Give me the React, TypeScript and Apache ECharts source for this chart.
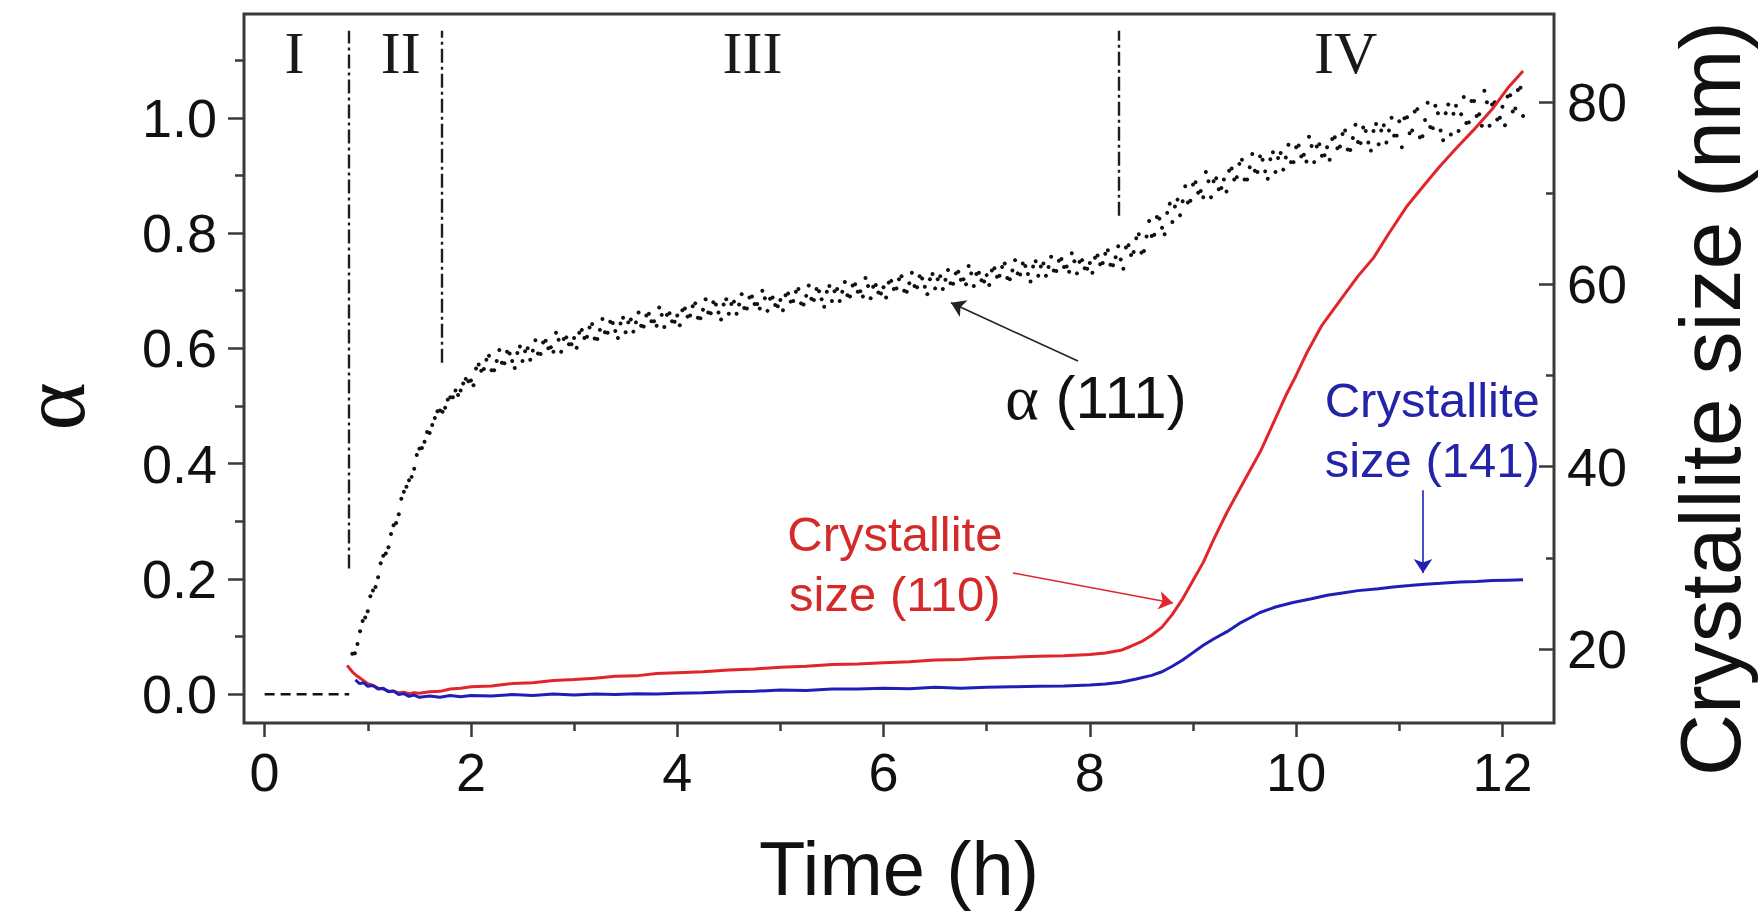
import React, { useEffect, useRef } from "react";
import * as echarts from "echarts";

// Axis ticks
const timeTicks = [0, 2, 4, 6, 8, 10, 12];
const timeMinorTicks = [1, 3, 5, 7, 9, 11];
const alphaTicks = [0, 0.2, 0.4, 0.6, 0.8, 1.0];
const alphaMinorTicks = [0.1, 0.3, 0.5, 0.7, 0.9, 1.1];
const sizeTicks = [20, 40, 60, 80];
const sizeMinorTicks = [30, 50, 70];

// Transformed fraction α from the (111) reflection, [time h, α] — scan A
const alphaPoints: [number, number][] = [
  [0.85, 0.070], [0.90, 0.087], [0.95, 0.127], [1.00, 0.144], [1.05, 0.180], [1.10, 0.203], [1.15, 0.240], [1.20, 0.255],
  [1.25, 0.293], [1.30, 0.312], [1.35, 0.351], [1.40, 0.371], [1.45, 0.391], [1.50, 0.426], [1.55, 0.438], [1.60, 0.453],
  [1.65, 0.479], [1.70, 0.492], [1.75, 0.497], [1.80, 0.515], [1.85, 0.527], [1.90, 0.527], [1.95, 0.547], [2.00, 0.544],
  [2.05, 0.565], [2.10, 0.561], [2.15, 0.580], [2.20, 0.562], [2.25, 0.578], [2.30, 0.575], [2.35, 0.594], [2.40, 0.578],
  [2.45, 0.592], [2.50, 0.578], [2.55, 0.600], [2.60, 0.596], [2.65, 0.591], [2.70, 0.610], [2.75, 0.600], [2.80, 0.594],
  [2.85, 0.615], [2.90, 0.616], [2.95, 0.607], [3.00, 0.618], [3.05, 0.627], [3.10, 0.618], [3.15, 0.636], [3.20, 0.617],
  [3.25, 0.632], [3.30, 0.628], [3.35, 0.646], [3.40, 0.630], [3.45, 0.643], [3.50, 0.628], [3.55, 0.650], [3.60, 0.645],
  [3.65, 0.639], [3.70, 0.657], [3.75, 0.647], [3.80, 0.639], [3.85, 0.658], [3.90, 0.658], [3.95, 0.647], [4.00, 0.657],
  [4.05, 0.666], [4.10, 0.655], [4.15, 0.673], [4.20, 0.653], [4.25, 0.667], [4.30, 0.662], [4.35, 0.680], [4.40, 0.662],
  [4.45, 0.676], [4.50, 0.660], [4.55, 0.681], [4.60, 0.676], [4.65, 0.670], [4.70, 0.688], [4.75, 0.677], [4.80, 0.669],
  [4.85, 0.687], [4.90, 0.686], [4.95, 0.675], [5.00, 0.684], [5.05, 0.692], [5.10, 0.681], [5.15, 0.698], [5.20, 0.678],
  [5.25, 0.691], [5.30, 0.686], [5.35, 0.703], [5.40, 0.685], [5.45, 0.698], [5.50, 0.682], [5.55, 0.703], [5.60, 0.698],
  [5.65, 0.692], [5.70, 0.709], [5.75, 0.698], [5.80, 0.690], [5.85, 0.708], [5.90, 0.707], [5.95, 0.697], [6.00, 0.706],
  [6.05, 0.714], [6.10, 0.703], [6.15, 0.720], [6.20, 0.700], [6.25, 0.713], [6.30, 0.708], [6.35, 0.725], [6.40, 0.707],
  [6.45, 0.720], [6.50, 0.704], [6.55, 0.725], [6.60, 0.719], [6.65, 0.713], [6.70, 0.730], [6.75, 0.719], [6.80, 0.711],
  [6.85, 0.730], [6.90, 0.729], [6.95, 0.718], [7.00, 0.727], [7.05, 0.735], [7.10, 0.724], [7.15, 0.741], [7.20, 0.722],
  [7.25, 0.735], [7.30, 0.730], [7.35, 0.747], [7.40, 0.729], [7.45, 0.742], [7.50, 0.726], [7.55, 0.747], [7.60, 0.741],
  [7.65, 0.735], [7.70, 0.752], [7.75, 0.741], [7.80, 0.733], [7.85, 0.751], [7.90, 0.750], [7.95, 0.739], [8.00, 0.748],
  [8.05, 0.757], [8.10, 0.746], [8.15, 0.764], [8.20, 0.745], [8.25, 0.758], [8.30, 0.754], [8.35, 0.775], [8.40, 0.762],
  [8.45, 0.791], [8.50, 0.766], [8.55, 0.794], [8.60, 0.795], [8.65, 0.828], [8.70, 0.809], [8.75, 0.835], [8.80, 0.819],
  [8.85, 0.858], [8.90, 0.855], [8.95, 0.853], [9.00, 0.884], [9.05, 0.870], [9.10, 0.862], [9.15, 0.890], [9.20, 0.890],
  [9.25, 0.876], [9.30, 0.893], [9.35, 0.908], [9.40, 0.893], [9.45, 0.920], [9.50, 0.893], [9.55, 0.914], [9.60, 0.908],
  [9.65, 0.933], [9.70, 0.907], [9.75, 0.928], [9.80, 0.906], [9.85, 0.939], [9.90, 0.931], [9.95, 0.923], [10.00, 0.949],
  [10.05, 0.933], [10.10, 0.924], [10.15, 0.951], [10.20, 0.950], [10.25, 0.934], [10.30, 0.949], [10.35, 0.963], [10.40, 0.947],
  [10.45, 0.972], [10.50, 0.945], [10.55, 0.965], [10.60, 0.958], [10.65, 0.983], [10.70, 0.957], [10.75, 0.977], [10.80, 0.954],
  [10.85, 0.987], [10.90, 0.978], [10.95, 0.969], [11.00, 0.994], [11.05, 0.999], [11.10, 0.973], [11.15, 1.011], [11.20, 0.966],
  [11.25, 0.996], [11.30, 0.984], [11.35, 1.021], [11.40, 0.978], [11.45, 1.008], [11.50, 0.971], [11.55, 1.021], [11.60, 1.006],
  [11.65, 0.991], [11.70, 1.029], [11.75, 1.003], [11.80, 0.986], [11.85, 1.027], [11.90, 1.023], [11.95, 0.997], [12.00, 1.019],
  [12.05, 1.037], [12.10, 1.011], [12.15, 1.048], [12.20, 1.003],
];

// Same reflection, interleaved scan B
const alphaPointsB: [number, number][] = [
  [0.875, 0.071], [0.925, 0.109], [0.975, 0.133], [1.025, 0.170], [1.075, 0.186], [1.125, 0.227], [1.175, 0.244], [1.225, 0.278],
  [1.275, 0.297], [1.325, 0.339], [1.375, 0.360], [1.425, 0.377], [1.475, 0.415], [1.525, 0.427], [1.575, 0.455], [1.625, 0.467],
  [1.675, 0.491], [1.725, 0.490], [1.775, 0.511], [1.825, 0.515], [1.875, 0.519], [1.925, 0.539], [1.975, 0.543],
  [2.025, 0.536], [2.075, 0.572], [2.125, 0.564], [2.175, 0.587], [2.225, 0.562], [2.275, 0.597], [2.325, 0.574], [2.375, 0.591],
  [2.425, 0.566], [2.475, 0.603], [2.525, 0.595], [2.575, 0.580], [2.625, 0.614], [2.675, 0.590], [2.725, 0.613], [2.775, 0.602],
  [2.825, 0.627], [2.875, 0.594], [2.925, 0.619], [2.975, 0.607], [3.025, 0.601], [3.075, 0.632], [3.125, 0.620], [3.175, 0.642],
  [3.225, 0.616], [3.275, 0.651], [3.325, 0.627], [3.375, 0.644], [3.425, 0.618], [3.475, 0.653], [3.525, 0.645], [3.575, 0.629],
  [3.625, 0.662], [3.675, 0.638], [3.725, 0.660], [3.775, 0.647], [3.825, 0.671], [3.875, 0.637], [3.925, 0.661], [3.975, 0.646],
  [4.025, 0.640], [4.075, 0.669], [4.125, 0.657], [4.175, 0.678], [4.225, 0.652], [4.275, 0.685], [4.325, 0.661], [4.375, 0.676],
  [4.425, 0.650], [4.475, 0.685], [4.525, 0.677], [4.575, 0.660], [4.625, 0.694], [4.675, 0.669], [4.725, 0.690], [4.775, 0.677],
  [4.825, 0.700], [4.875, 0.665], [4.925, 0.688], [4.975, 0.673], [5.025, 0.666], [5.075, 0.695], [5.125, 0.682], [5.175, 0.703],
  [5.225, 0.676], [5.275, 0.709], [5.325, 0.684], [5.375, 0.699], [5.425, 0.672], [5.475, 0.708], [5.525, 0.699], [5.575, 0.682],
  [5.625, 0.715], [5.675, 0.690], [5.725, 0.711], [5.775, 0.699], [5.825, 0.722], [5.875, 0.687], [5.925, 0.710], [5.975, 0.695],
  [6.025, 0.688], [6.075, 0.717], [6.125, 0.704], [6.175, 0.725], [6.225, 0.698], [6.275, 0.731], [6.325, 0.706], [6.375, 0.721],
  [6.425, 0.694], [6.475, 0.729], [6.525, 0.720], [6.575, 0.703], [6.625, 0.736], [6.675, 0.712], [6.725, 0.733], [6.775, 0.720],
  [6.825, 0.743], [6.875, 0.708], [6.925, 0.731], [6.975, 0.716], [7.025, 0.710], [7.075, 0.739], [7.125, 0.726], [7.175, 0.747],
  [7.225, 0.720], [7.275, 0.753], [7.325, 0.728], [7.375, 0.743], [7.425, 0.716], [7.475, 0.751], [7.525, 0.742], [7.575, 0.726],
  [7.625, 0.759], [7.675, 0.734], [7.725, 0.755], [7.775, 0.742], [7.825, 0.765], [7.875, 0.730], [7.925, 0.753], [7.975, 0.738],
  [8.025, 0.731], [8.075, 0.761], [8.125, 0.748], [8.175, 0.770], [8.225, 0.744], [8.275, 0.777], [8.325, 0.738], [8.375, 0.779],
  [8.425, 0.767], [8.475, 0.798], [8.525, 0.769], [8.575, 0.821], [8.625, 0.797], [8.675, 0.825], [8.725, 0.798], [8.775, 0.851],
  [8.825, 0.846], [8.875, 0.831], [8.925, 0.881], [8.975, 0.856], [9.025, 0.888], [9.075, 0.873], [9.125, 0.906], [9.175, 0.862],
  [9.225, 0.895], [9.275, 0.878], [9.325, 0.872], [9.375, 0.912], [9.425, 0.897], [9.475, 0.927], [9.525, 0.893], [9.575, 0.937],
  [9.625, 0.906], [9.675, 0.927], [9.725, 0.894], [9.775, 0.940], [9.825, 0.930], [9.875, 0.910], [9.925, 0.953], [9.975, 0.923],
  [10.025, 0.952], [10.075, 0.936], [10.125, 0.967], [10.175, 0.923], [10.225, 0.954], [10.275, 0.935], [10.325, 0.927], [10.375, 0.966],
  [10.425, 0.950], [10.475, 0.978], [10.525, 0.944], [10.575, 0.988], [10.625, 0.956], [10.675, 0.977], [10.725, 0.943], [10.775, 0.989],
  [10.825, 0.978], [10.875, 0.957], [10.925, 1.000], [10.975, 0.969], [11.025, 0.949], [11.075, 1.001], [11.125, 0.978], [11.175, 1.015],
  [11.225, 0.968], [11.275, 1.026], [11.325, 0.982], [11.375, 1.008], [11.425, 0.961], [11.475, 1.023], [11.525, 1.007], [11.575, 0.977],
  [11.625, 1.036], [11.675, 0.992], [11.725, 1.029], [11.775, 1.006], [11.825, 1.047], [11.875, 0.986], [11.925, 1.027], [11.975, 1.000],
  [12.025, 0.987], [12.075, 1.039], [12.125, 1.016], [12.175, 1.052],
];

// Induction period (stage I): α stays at zero
const inductionPoints: [number, number][] = [[0, 0], [0.82, 0]];

// Crystallite size from the (110) reflection, [time h, nm]
const size110: [number, number][] = [
  [0.80, 18.2], [0.85, 17.5], [0.90, 17.0], [0.95, 16.6], [1.00, 16.2], [1.05, 16.0], [1.10, 15.7], [1.15, 15.6],
  [1.20, 15.4], [1.25, 15.35], [1.30, 15.2], [1.35, 15.25], [1.40, 15.1], [1.45, 15.2], [1.50, 15.15], [1.60, 15.3],
  [1.70, 15.35], [1.80, 15.6], [1.90, 15.7], [2.00, 15.85], [2.20, 15.95], [2.40, 16.2], [2.60, 16.3], [2.80, 16.55],
  [3.00, 16.65], [3.20, 16.8], [3.40, 17.0], [3.60, 17.05], [3.80, 17.3], [4.00, 17.4], [4.25, 17.5], [4.50, 17.7],
  [4.75, 17.8], [5.00, 18.0], [5.25, 18.1], [5.50, 18.3], [5.75, 18.35], [6.00, 18.5], [6.25, 18.6], [6.50, 18.8],
  [6.75, 18.85], [7.00, 19.0], [7.25, 19.1], [7.50, 19.2], [7.75, 19.25], [8.00, 19.4], [8.15, 19.55], [8.30, 19.85],
  [8.40, 20.3], [8.50, 20.8], [8.60, 21.5], [8.70, 22.4], [8.80, 23.8], [8.90, 25.5], [9.00, 27.5], [9.10, 29.5],
  [9.20, 32.0], [9.33, 35.0], [9.50, 38.5], [9.66, 41.8], [9.80, 45.3], [9.90, 47.8], [10.00, 50.0], [10.10, 52.4],
  [10.25, 55.5], [10.43, 58.3], [10.60, 60.9], [10.75, 62.9], [10.90, 65.6], [11.07, 68.5], [11.25, 71.0], [11.39, 72.9],
  [11.55, 74.9], [11.71, 76.8], [11.90, 79.2], [12.05, 81.5], [12.20, 83.4],
];

// Crystallite size from the (141) reflection, [time h, nm]
const size141: [number, number][] = [
  [0.88, 16.6], [0.92, 16.2], [0.96, 16.3], [1.00, 15.9], [1.05, 16.0], [1.10, 15.6], [1.15, 15.7], [1.20, 15.3],
  [1.25, 15.4], [1.30, 15.0], [1.35, 15.1], [1.40, 14.8], [1.45, 14.95], [1.50, 14.7], [1.60, 14.85], [1.70, 14.7],
  [1.80, 14.9], [1.90, 14.75], [2.00, 14.9], [2.20, 14.85], [2.40, 15.0], [2.60, 14.9], [2.80, 15.05], [3.00, 14.95],
  [3.20, 15.05], [3.40, 15.0], [3.60, 15.1], [3.80, 15.05], [4.00, 15.15], [4.25, 15.2], [4.50, 15.3], [4.75, 15.35],
  [5.00, 15.5], [5.25, 15.45], [5.50, 15.6], [5.75, 15.6], [6.00, 15.7], [6.25, 15.65], [6.50, 15.8], [6.75, 15.7],
  [7.00, 15.8], [7.25, 15.85], [7.50, 15.9], [7.75, 15.95], [8.00, 16.05], [8.15, 16.15], [8.30, 16.35], [8.45, 16.7],
  [8.60, 17.1], [8.70, 17.5], [8.80, 18.1], [8.90, 18.8], [9.00, 19.6], [9.10, 20.4], [9.20, 21.1], [9.33, 21.9],
  [9.45, 22.8], [9.55, 23.4], [9.65, 24.0], [9.80, 24.6], [9.97, 25.1], [10.15, 25.5], [10.30, 25.9], [10.45, 26.15],
  [10.60, 26.4], [10.80, 26.6], [10.94, 26.8], [11.10, 26.95], [11.25, 27.1], [11.40, 27.2], [11.59, 27.35], [11.75, 27.4],
  [11.90, 27.5], [12.05, 27.55], [12.20, 27.6],
];

// Stage boundaries (time, lower α end, upper α end) and stage names
const stageBoundaryTimes = [0.82, 1.72, 8.28];
const stageBoundaryLow = [0.218, 0.575, 0.83];
const stageBoundaryHigh = 1.151;
const stageNames = ["I", "II", "III", "IV"];
const stageLabelAt: [number, number][] = [[0.29, 1.113], [1.32, 1.113], [4.73, 1.113], [10.48, 1.113]];

// Callouts
const alphaCallout = { text: "{g|α} (111)", at: [8.06, 0.514], from: [7.885, 0.578], to: [6.654, 0.679] };
const callout110 = { text: "Crystallite\nsize (110)", at: [6.11, 29.3], from: [7.255, 28.34], to: [8.806, 25.05] };
const callout141 = { text: "Crystallite\nsize (141)", at: [11.32, 44.0], from: [11.23, 37.4], to: [11.23, 28.34] };

const SANS = '"Liberation Sans", Arial, Helvetica, sans-serif';
const SERIF = '"Liberation Serif", "Times New Roman", serif';
const INK = "#111111";
const FRAME = "#3a3a3a";
const RED = "#e0252b";
const BLUE = "#1f1fb8";

const T_MIN = -0.2;
const T_MAX = 12.5;
const A_MIN = -0.05;
const A_MAX = 1.18;
const S_MIN = 11.88;
const S_MAX = 89.65;

const plainText = { textBorderWidth: 0, textBorderColor: "transparent", textShadowBlur: 0, opacity: 1 };

function arrowLine(from: number[], to: number[], color: string) {
  return [
    { coord: from, symbol: "none", lineStyle: { color, width: 1.6, type: "solid" } },
    { coord: to, symbol: "arrow", symbolSize: 14, itemStyle: { color } },
  ];
}

function hiddenValueAxis(position: string, min: number, max: number, ticks: number[], length: number, inside: boolean) {
  return {
    type: "value",
    position,
    min,
    max,
    axisLine: { show: false, onZero: false },
    axisTick: { show: true, inside, customValues: ticks, length, lineStyle: { color: FRAME, width: 2.5 } },
    axisLabel: { show: false },
    splitLine: { show: false },
  };
}

export default function App() {
  const ref = useRef<HTMLDivElement>(null);

  useEffect(() => {
    if (!ref.current) return;
    const chart = echarts.init(ref.current, undefined, { renderer: "svg" });

    const tickLabel = { fontFamily: SANS, fontSize: 54, color: INK };

    const option: any = {
      animation: false,
      backgroundColor: "#ffffff",
      grid: {
        left: 244,
        right: 208,
        top: 14,
        bottom: 195,
        show: true,
        borderColor: FRAME,
        borderWidth: 3,
        backgroundColor: "transparent",
        containLabel: false,
        outerBoundsMode: "none",
      },
      xAxis: [
        {
          type: "value",
          position: "bottom",
          min: T_MIN,
          max: T_MAX,
          axisLine: { show: false, onZero: false },
          axisTick: { show: true, customValues: timeTicks, length: 14, lineStyle: { color: FRAME, width: 2.5 } },
          axisLabel: { customValues: timeTicks, margin: 22, ...tickLabel },
          splitLine: { show: false },
          name: "Time (h)",
          nameLocation: "middle",
          nameGap: 107,
          nameMoveOverlap: false,
          nameTextStyle: { fontFamily: SANS, fontSize: 76, color: INK },
        },
        hiddenValueAxis("bottom", T_MIN, T_MAX, timeMinorTicks, 8, false),
      ],
      yAxis: [
        {
          type: "value",
          position: "left",
          min: A_MIN,
          max: A_MAX,
          axisLine: { show: false, onZero: false },
          axisTick: { show: true, customValues: alphaTicks, length: 16, lineStyle: { color: FRAME, width: 2.5 } },
          axisLabel: { customValues: alphaTicks, margin: 27, formatter: (v: number) => v.toFixed(1), ...tickLabel },
          splitLine: { show: false },
          name: "α",
          nameLocation: "middle",
          nameRotate: 90,
          nameGap: 161,
          nameMoveOverlap: false,
          nameTextStyle: { fontFamily: SERIF, fontSize: 92, lineHeight: 60, color: INK, padding: [0, 76, 0, 0] },
        },
        {
          type: "value",
          position: "right",
          min: S_MIN,
          max: S_MAX,
          axisLine: { show: false, onZero: false },
          axisTick: { show: true, inside: true, customValues: sizeTicks, length: 15, lineStyle: { color: FRAME, width: 2.5 } },
          axisLabel: { customValues: sizeTicks, margin: 13, ...tickLabel },
          splitLine: { show: false },
          name: "Crystallite size (nm)",
          nameLocation: "middle",
          nameRotate: 90,
          nameGap: 113,
          nameMoveOverlap: false,
          nameTextStyle: { fontFamily: SANS, fontSize: 86, color: INK, padding: [0, 60, 0, 0] },
        },
        hiddenValueAxis("left", A_MIN, A_MAX, alphaMinorTicks, 9, false),
        hiddenValueAxis("right", S_MIN, S_MAX, sizeMinorTicks, 8, true),
      ],
      series: [
        {
          type: "line",
          name: "Crystallite size (110)",
          xAxisIndex: 0,
          yAxisIndex: 1,
          data: size110,
          symbol: "none",
          silent: true,
          lineStyle: { color: RED, width: 3 },
          markLine: {
            silent: true,
            symbol: ["none", "none"],
            label: { show: false },
            emphasis: { disabled: true },
            data: [arrowLine(callout110.from, callout110.to, RED)],
          },
        },
        {
          type: "line",
          name: "Crystallite size (141)",
          xAxisIndex: 0,
          yAxisIndex: 1,
          data: size141,
          symbol: "none",
          silent: true,
          lineStyle: { color: BLUE, width: 3 },
          markLine: {
            silent: true,
            symbol: ["none", "none"],
            label: { show: false },
            emphasis: { disabled: true },
            data: [arrowLine(callout141.from, callout141.to, BLUE)],
          },
        },
        {
          type: "line",
          name: "Induction",
          xAxisIndex: 0,
          yAxisIndex: 0,
          data: inductionPoints,
          symbol: "none",
          silent: true,
          lineStyle: { color: "#111", width: 2.5, type: [10, 6] },
        },
        {
          type: "scatter",
          name: "α (111)",
          xAxisIndex: 0,
          yAxisIndex: 0,
          data: alphaPoints.concat(alphaPointsB),
          symbolSize: 4,
          silent: true,
          itemStyle: { color: "#111", opacity: 1 },
          markLine: {
            silent: true,
            symbol: ["none", "none"],
            label: { show: false },
            emphasis: { disabled: true },
            data: [
              ...stageBoundaryTimes.map((t, i) => [
                { coord: [t, stageBoundaryLow[i]], lineStyle: { color: "#1e1e1e", width: 2.4, type: [14, 4, 3, 4] } },
                { coord: [t, stageBoundaryHigh] },
              ]),
              arrowLine(alphaCallout.from, alphaCallout.to, "#222"),
            ],
          },
        },
        {
          type: "scatter",
          name: "Stages",
          xAxisIndex: 0,
          yAxisIndex: 0,
          data: stageLabelAt,
          symbolSize: 1,
          silent: true,
          itemStyle: { color: "transparent" },
          label: {
            show: true,
            position: "inside",
            formatter: (p: any) => stageNames[p.dataIndex],
            fontFamily: SERIF,
            fontSize: 60,
            color: "#1a1a1a",
            ...plainText,
          },
        },
        {
          type: "scatter",
          name: "α callout",
          xAxisIndex: 0,
          yAxisIndex: 0,
          data: [alphaCallout.at],
          symbolSize: 1,
          silent: true,
          itemStyle: { color: "transparent" },
          label: {
            show: true,
            position: "inside",
            formatter: alphaCallout.text,
            fontFamily: SANS,
            fontSize: 60,
            color: INK,
            ...plainText,
            rich: { g: { fontFamily: SERIF, fontSize: 64, color: INK, ...plainText } },
          },
        },
        {
          type: "scatter",
          name: "Size callouts",
          xAxisIndex: 0,
          yAxisIndex: 1,
          data: [
            { value: callout110.at, label: { color: "#d42a2a" } },
            { value: callout141.at, label: { color: "#2424a8" } },
          ],
          symbolSize: 1,
          silent: true,
          itemStyle: { color: "transparent" },
          label: {
            show: true,
            position: "inside",
            formatter: (p: any) => (p.dataIndex === 0 ? callout110.text : callout141.text),
            fontFamily: SANS,
            fontSize: 49,
            lineHeight: 60,
            align: "center",
            ...plainText,
          },
        },
      ],
    };

    chart.setOption(option);
    return () => chart.dispose();
  }, []);

  return (
    <div
      ref={ref}
      style={{ position: "fixed", left: 0, top: 0, width: 1762, height: 918, background: "#fff" }}
    />
  );
}
